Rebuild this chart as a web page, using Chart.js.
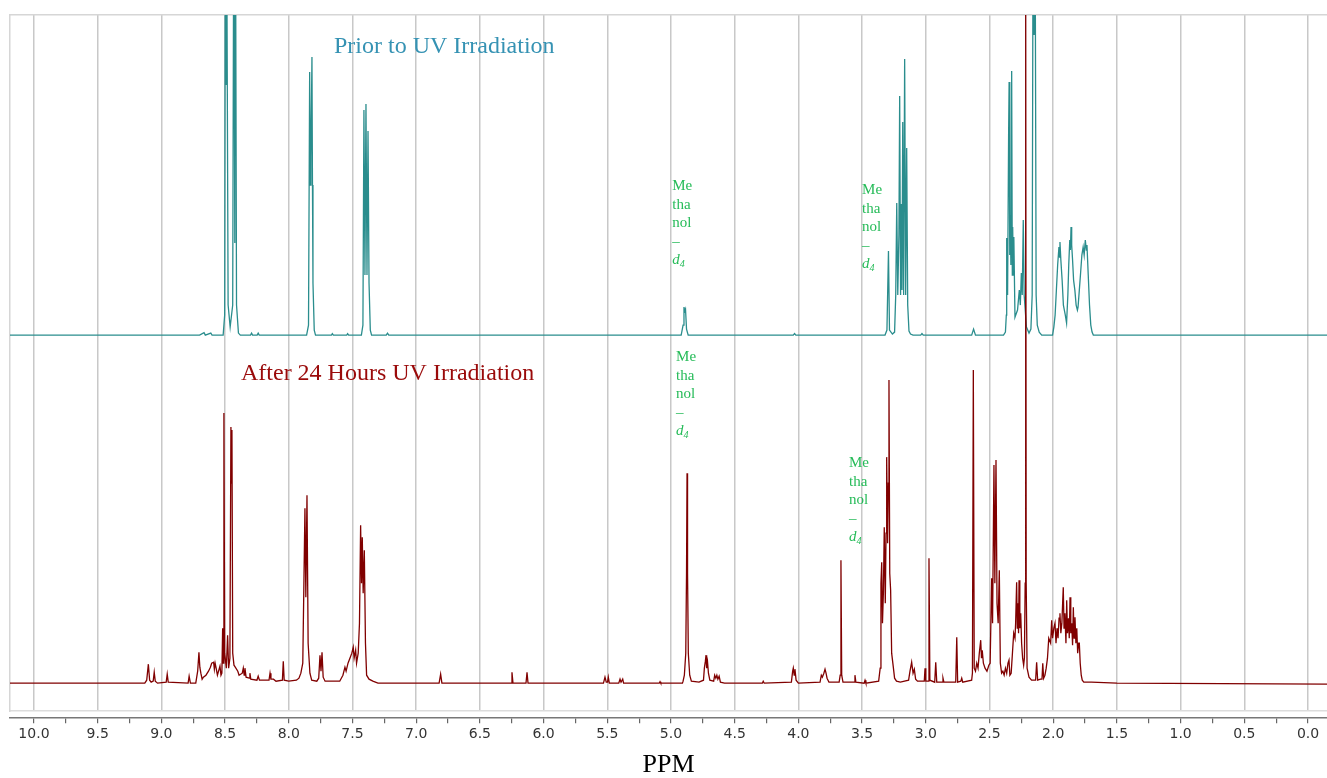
<!DOCTYPE html>
<html>
<head>
<meta charset="utf-8">
<script src="https://cdn.jsdelivr.net/npm/chart.js@4"></script>
<style>
  html, body { margin: 0; padding: 0; background: #ffffff; }
  #wrap { width: 1327px; height: 778px; position: relative; }
</style>
</head>
<body>
<div id="wrap"><canvas id="c" width="1327" height="778"></canvas></div>
<script>
// ---- DATA (chemical shift in ppm, intensity above each trace's own baseline) ----
const priorUV = [
  [10.19,0],[8.70,0],[8.665,2.5],[8.655,0],[8.612,2],[8.602,0],[8.515,0],[8.503,20],[8.498,420],[8.495,250],[8.492,420],[8.489,250],[8.486,420],
  [8.476,30],[8.46,8],[8.44,30],[8.432,420],[8.428,300],[8.425,92],[8.422,420],[8.418,420],[8.41,30],[8.395,2],[8.38,0],[8.30,0],[8.292,2],[8.284,0],
  [8.248,0],[8.24,2],[8.232,0],[7.86,0],[7.845,10],[7.836,263],[7.830,150],[7.826,178],[7.818,278],[7.814,150],[7.81,52],[7.80,5],[7.79,0],
  [7.665,0],[7.658,1.5],[7.65,0],[7.545,0],[7.538,1.5],[7.53,0],[7.43,0],[7.418,10],[7.41,225],[7.402,60],[7.394,231],
  [7.386,60],[7.378,204],[7.37,52],[7.36,5],[7.35,0],[7.235,0],[7.225,2],[7.215,0],[4.92,0],[4.905,10],[4.898,28],
  [4.892,24],[4.886,26],[4.878,6],[4.865,0],[4.04,0],[4.03,1.5],[4.02,0],[3.32,0],[3.305,5],[3.293,84],[3.285,5],
  [3.262,1],[3.245,3],[3.236,40],[3.228,132],[3.22,40],[3.211,100],[3.205,239],[3.198,40],[3.192,131],[3.187,45],
  [3.181,213],[3.174,40],[3.166,276],[3.158,40],[3.15,187],[3.142,30],[3.132,4],[3.12,1],[3.10,0],[3.04,0],[3.03,1.5],
  [3.02,0],[2.64,0],[2.625,6],[2.61,0],[2.39,0],[2.375,3],[2.368,20],[2.365,97],[2.358,40],[2.35,200],[2.346,253],
  [2.341,80],[2.337,120],[2.332,70],[2.326,264],[2.321,60],[2.318,108],[2.313,60],[2.309,98],[2.30,18],[2.28,25],
  [2.266,45],[2.258,30],[2.25,62],[2.243,40],[2.235,115],[2.228,40],[2.21,8],[2.19,2],[2.175,6],[2.165,40],[2.158,420],
  [2.15,300],[2.142,420],[2.134,40],[2.125,10],[2.11,3],[2.09,0],[2.005,0],[1.995,8],[1.985,20],[1.975,45],[1.965,70],
  [1.955,88],[1.95,78],[1.947,93],[1.94,75],[1.93,55],[1.92,30],[1.905,20],[1.895,12],[1.885,40],[1.878,70],[1.87,95],
  [1.865,85],[1.86,108],[1.855,90],[1.848,75],[1.84,55],[1.83,45],[1.82,30],[1.81,25],[1.805,28],[1.795,45],[1.785,62],
  [1.775,80],[1.765,88],[1.757,80],[1.748,95],[1.74,85],[1.735,90],[1.725,60],[1.715,30],[1.705,10],[1.695,3],[1.685,0],
  [-0.15,0]
];

const afterUV = [
  [10.19,0],[9.13,0],[9.115,3],[9.102,19],[9.092,3],[9.08,1],[9.064,2],[9.056,11],[9.048,2],[9.03,0],[8.962,1],[8.954,9],
  [8.946,1],[8.79,0],[8.782,7],[8.772,0],[8.73,0],[8.715,12],[8.705,31],[8.698,16],[8.69,10],[8.68,4],[8.67,6],[8.65,8],
  [8.63,12],[8.615,16],[8.605,20],[8.59,21],[8.584,14],[8.578,20],[8.57,15],[8.56,8],[8.54,17],[8.532,8],[8.525,10],
  [8.519,55],[8.514,20],[8.509,270],[8.503,30],[8.49,15],[8.48,48],[8.472,15],[8.462,25],[8.454,256],[8.45,200],
  [8.446,253],[8.44,30],[8.43,18],[8.42,16],[8.40,12],[8.39,8],[8.365,10],[8.357,15],[8.35,8],[8.344,15],[8.335,6],
  [8.31,5],[8.305,10],[8.298,4],[8.25,3],[8.24,7],[8.23,3],[8.155,3],[8.147,10],[8.14,4],[8.12,4],[8.10,2],[8.05,3],
  [8.043,22],[8.036,3],[8.00,2],[7.94,3],[7.92,5],[7.905,10],[7.89,20],[7.873,175],[7.866,86],[7.857,188],[7.848,40],
  [7.834,10],[7.82,3],[7.78,2],[7.765,5],[7.755,28],[7.747,12],[7.739,31],[7.73,6],[7.715,2],[7.60,2],[7.575,8],
  [7.559,16],[7.55,12],[7.535,20],[7.52,25],[7.505,30],[7.494,36],[7.487,25],[7.475,33],[7.468,20],[7.455,30],[7.445,60],
  [7.436,158],[7.429,100],[7.423,146],[7.416,90],[7.407,133],[7.398,40],[7.389,8],[7.37,4],[7.34,2],[7.30,0],[6.82,0],
  [6.808,9],[6.798,0],[6.255,0],[6.248,11],[6.24,0],[6.138,0],[6.13,11],[6.122,0],[5.53,0],[5.518,6],[5.508,1],[5.498,1],
  [5.492,6],[5.484,0],[5.41,0],[5.40,4],[5.392,1],[5.386,1],[5.379,4],[5.372,0],[5.092,0],[5.086,1.5],[5.08,0],[4.91,0],
  [4.905,2],[4.895,8],[4.884,30],[4.878,110],[4.874,210],[4.870,110],[4.864,30],[4.853,8],[4.84,2],[4.78,1],[4.745,3],
  [4.738,15],[4.73,22],[4.725,28],[4.72,15],[4.713,21],[4.706,10],[4.695,3],[4.665,2],[4.657,8],[4.648,5],[4.64,8],
  [4.632,4],[4.622,7],[4.612,1],[4.58,0],[4.283,0],[4.276,2],[4.268,0],[4.055,1],[4.045,12],[4.04,15],[4.033,8],
  [4.027,14],[4.018,3],[4.0,0],[3.83,1],[3.82,8],[3.812,6],[3.80,10],[3.791,14],[3.783,10],[3.775,5],[3.76,1],[3.68,1],
  [3.672,8],[3.666,123],[3.66,8],[3.65,1],[3.563,1],[3.556,8],[3.549,1],[3.484,0],[3.477,3],[3.47,0],[3.37,2],[3.358,15],
  [3.352,100],[3.346,121],[3.34,60],[3.333,90],[3.326,156],[3.318,80],[3.312,150],[3.307,226],[3.30,140],[3.294,200],
  [3.289,303],[3.283,110],[3.276,93],[3.268,30],[3.255,16],[3.245,5],[3.23,2],[3.20,1],[3.135,3],[3.124,12],[3.111,21],
  [3.10,10],[3.09,14],[3.08,4],[3.065,2],[3.012,2],[3.006,15],[3.0,2],[2.982,2],[2.975,125],[2.968,3],[2.93,1],[2.922,21],
  [2.914,1],[2.872,1],[2.865,5],[2.858,1],[2.765,1],[2.757,46],[2.75,1],[2.725,2],[2.718,5],[2.71,1],[2.64,3],[2.634,10],
  [2.627,313],[2.62,15],[2.61,12],[2.60,20],[2.59,15],[2.58,30],[2.569,43],[2.563,25],[2.557,33],[2.548,20],[2.535,15],
  [2.52,12],[2.505,18],[2.495,20],[2.483,105],[2.476,60],[2.465,218],[2.458,100],[2.449,223],[2.441,80],[2.432,60],
  [2.423,113],[2.415,20],[2.405,10],[2.395,12],[2.385,8],[2.375,15],[2.365,10],[2.355,20],[2.347,23],[2.34,8],[2.33,10],
  [2.32,30],[2.31,50],[2.30,45],[2.295,60],[2.287,101],[2.282,55],[2.277,80],[2.272,50],[2.268,103],[2.262,55],[2.255,70],
  [2.248,40],[2.24,25],[2.232,18],[2.226,25],[2.22,100],[2.216,720],[2.212,100],[2.205,15],[2.19,6],[2.17,3],[2.15,3],
  [2.138,3],[2.13,21],[2.122,3],[2.10,4],[2.088,4],[2.082,20],[2.075,5],[2.065,8],[2.055,15],[2.045,25],[2.035,45],
  [2.02,40],[2.012,63],[2.005,45],[1.995,55],[1.986,60],[1.978,40],[1.97,55],[1.962,45],[1.954,65],[1.947,70],[1.94,50],
  [1.932,60],[1.926,80],[1.921,96],[1.915,55],[1.908,70],[1.90,40],[1.894,83],[1.888,50],[1.88,65],[1.874,45],[1.868,86],
  [1.862,50],[1.855,60],[1.848,38],[1.842,76],[1.836,45],[1.829,66],[1.822,40],[1.815,55],[1.808,30],[1.80,40],[1.795,40],
  [1.788,20],[1.78,8],[1.772,3],[1.76,1],[1.70,1],[1.50,0],[-0.15,-1]
];

const seriesNames = ['After 24 Hours UV Irradiation', 'Prior to UV Irradiation'];
const solventText = ['Me', 'tha', 'nol', '\u2013'];
const axisTitle = 'PPM';

// ---- LAYOUT / STYLE ----
const X_MIN = -0.149, X_MAX = 10.188;
const Y_MIN = 0, Y_MAX = 696;
const AFTER_OFFSET = 28;    // stacked display offset of lower trace
const PRIOR_OFFSET = 376;   // stacked display offset of upper trace

const notes = [
  { text: seriesNames[1], x: 7.645, y: 664, color: '#3592b3', font: '24px "Liberation Serif"' },
  { text: seriesNames[0], x: 8.375, y: 337, color: '#9a0a0a', font: '24px "Liberation Serif"' }
];
const solventLabels = [
  { x: 4.99, y: 525 },
  { x: 3.50, y: 521 },
  { x: 4.96, y: 354 },
  { x: 3.603, y: 248 }
];

const toPoints = (arr, off) => arr.map(p => ({ x: p[0], y: p[1] + off }));

const notePlugin = {
  id: 'notes',
  afterDatasetsDraw(chart) {
    const ctx = chart.ctx, xs = chart.scales.x, ys = chart.scales.y;
    ctx.save();
    ctx.textBaseline = 'middle';
    ctx.textAlign = 'left';
    notes.forEach(n => {
      ctx.font = n.font;
      ctx.fillStyle = n.color;
      ctx.fillText(n.text, xs.getPixelForValue(n.x), ys.getPixelForValue(n.y));
    });
    ctx.fillStyle = '#25bb58';
    solventLabels.forEach(s => {
      const px = xs.getPixelForValue(s.x), py = ys.getPixelForValue(s.y);
      ctx.font = '15px "Liberation Serif"';
      solventText.forEach((t, i) => ctx.fillText(t, px, py + i * 18.6));
      ctx.font = 'italic 15px "Liberation Serif"';
      ctx.fillText('d', px, py + 4 * 18.6);
      const w = ctx.measureText('d').width;
      ctx.font = 'italic 10px "Liberation Serif"';
      ctx.fillText('4', px + w, py + 4 * 18.6 + 4);
    });
    ctx.restore();
  }
};

new Chart(document.getElementById('c'), {
  type: 'scatter',
  data: {
    datasets: [
      { label: seriesNames[0], data: toPoints(afterUV, AFTER_OFFSET), showLine: true, borderColor: '#800000',
        borderWidth: 1.3, pointRadius: 0, tension: 0, fill: false },
      { label: seriesNames[1], data: toPoints(priorUV, PRIOR_OFFSET), showLine: true, borderColor: '#2a8d8d',
        borderWidth: 1.3, pointRadius: 0, tension: 0, fill: false }
    ]
  },
  options: {
    responsive: false,
    animation: false,
    events: [],
    layout: { padding: { left: 10, top: 15, right: 0, bottom: 0 } },
    plugins: { legend: { display: false }, tooltip: { enabled: false } },
    scales: {
      xGrid: {
        type: 'linear', position: 'bottom', weight: 0, reverse: true, min: X_MIN, max: X_MAX,
        ticks: { display: false, stepSize: 0.5, includeBounds: false },
        grid: { color: '#c8c8c8', lineWidth: 1.5, drawTicks: true, tickLength: 7, tickColor: 'rgba(0,0,0,0)' },
        border: { display: true, color: '#dcdcdc', width: 1.5 }
      },
      x: {
        type: 'linear', position: 'bottom', weight: 1, reverse: true, min: X_MIN, max: X_MAX,
        ticks: {
          stepSize: 0.25, includeBounds: false, autoSkip: false, maxRotation: 0, minRotation: 0,
          padding: 3, color: '#333333', font: { family: 'DejaVu Sans', size: 14 },
          callback: v => (Math.abs(v * 2 - Math.round(v * 2)) < 1e-6 ? v.toFixed(1) : '')
        },
        grid: { drawOnChartArea: false, drawTicks: true, tickLength: 5, tickColor: '#666666', lineWidth: 1.2 },
        border: { display: true, color: '#777777', width: 1.5 },
        title: { display: true, text: axisTitle, color: '#000000',
                 font: { family: 'Liberation Serif', size: 26, lineHeight: 1 }, padding: { top: 6, bottom: 0 } }
      },
      xTop: {
        type: 'linear', position: 'top', display: true,
        ticks: { display: false },
        grid: { display: false, drawTicks: false },
        border: { display: true, color: '#d6d6d6', width: 1.5 }
      },
      y: {
        type: 'linear', min: Y_MIN, max: Y_MAX, display: true,
        ticks: { display: false },
        grid: { display: false, drawTicks: false },
        border: { display: true, color: '#d6d6d6', width: 1.5 }
      }
    }
  },
  plugins: [notePlugin]
});
</script>
</body>
</html>
